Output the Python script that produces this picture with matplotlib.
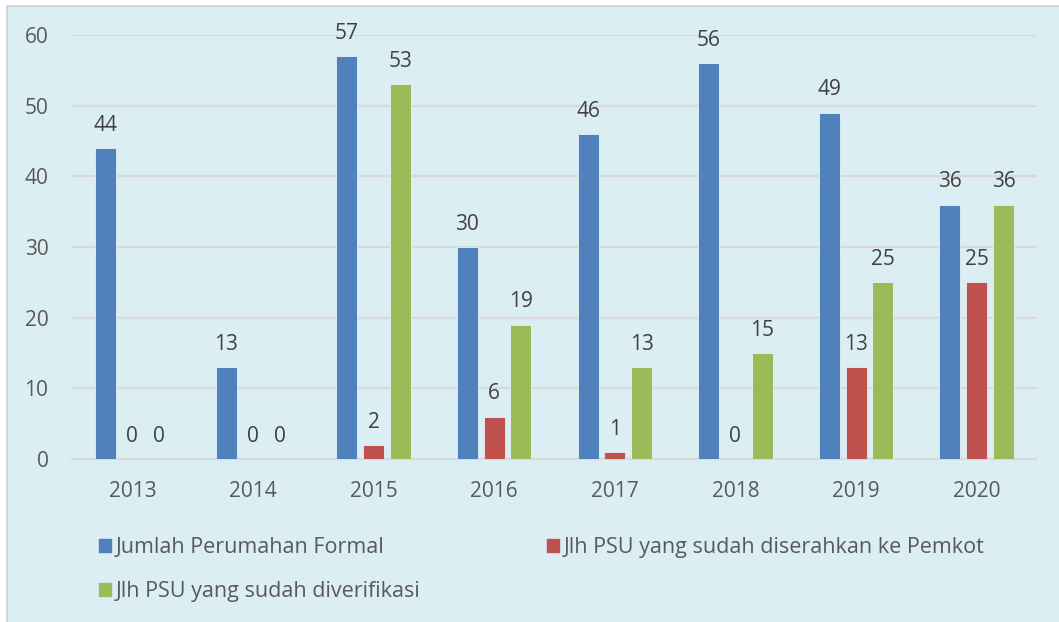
import numpy as np
import matplotlib
matplotlib.use("Agg")
import matplotlib.pyplot as plt
from matplotlib.patches import Patch, Rectangle

years = ["2013", "2014", "2015", "2016", "2017", "2018", "2019", "2020"]
perumahan = [44, 13, 57, 30, 46, 56, 49, 36]
diserahkan = [0, 0, 2, 6, 1, 0, 13, 25]
diverifikasi = [0, 0, 53, 19, 13, 15, 25, 36]

series_names = ["Jumlah Perumahan Formal",
                "Jlh PSU yang sudah diserahkan ke Pemkot",
                "Jlh PSU yang sudah diverifikasi"]
colors = ["#4F81BD", "#C0504D", "#9BBB59"]
bg = "#DBEEF4"

plt.rcParams['font.family'] = ['Open Sans', 'DejaVu Sans']

fig = plt.figure(figsize=(10.59, 6.22), dpi=100)
fig.patch.set_facecolor("white")
# chart area, border only visible on left and top
fig.patches.append(Rectangle((7 / 1059, -0.05), 1.1, 1.05 - 6 / 622,
                             transform=fig.transFigure, facecolor=bg,
                             edgecolor="#D0D0D0", linewidth=1.2, zorder=0))

ax = fig.add_axes([72 / 1059, 1 - 459 / 622, (1037 - 72) / 1059, (459 - 35) / 622])
ax.set_zorder(2)
ax.patch.set_alpha(0)

x = np.arange(len(years))
w = 0.174
off = 0.222
for i, (vals, c) in enumerate(zip([perumahan, diserahkan, diverifikasi], colors)):
    pos = x + (i - 1) * off
    ax.bar(pos, vals, width=w, color=c, edgecolor="#E8F0F8", linewidth=0.6, zorder=3)
    for p, v in zip(pos, vals):
        ax.annotate(str(v), (p, v), xytext=(0, 12.5), textcoords="offset points",
                    ha="center", va="baseline", fontsize=15, color="#404040",
                    annotation_clip=False, zorder=4)

ax.set_xlim(-0.5, len(years) - 0.5)
ax.set_ylim(0, 60)
ax.set_yticks(range(0, 61, 10))
ax.set_xticks(x)
ax.set_xticklabels(years)
ax.grid(axis="y", color="#D9D9D9", linewidth=1.6, zorder=1)
ax.tick_params(axis="both", length=0, labelsize=15, colors="#595959")
ax.tick_params(axis="x", pad=16)
ax.tick_params(axis="y", pad=17)
for s in ["top", "right", "left"]:
    ax.spines[s].set_visible(False)
ax.spines["bottom"].set_color("#D9D9D9")
ax.spines["bottom"].set_linewidth(1.6)

handles = [Patch(color=c) for c in colors]
order = [0, 2, 1]
leg = fig.legend([handles[i] for i in order], [series_names[i] for i in order],
                 ncol=2, loc="upper left", bbox_to_anchor=(80 / 1059, 1 - 518 / 622),
                 frameon=False, fontsize=15.5, labelcolor="#595959",
                 handlelength=0.55, handleheight=0.55, handletextpad=0.2,
                 columnspacing=5.9, labelspacing=1.05)

fig.savefig("out.png", dpi=100, facecolor=fig.get_facecolor())
